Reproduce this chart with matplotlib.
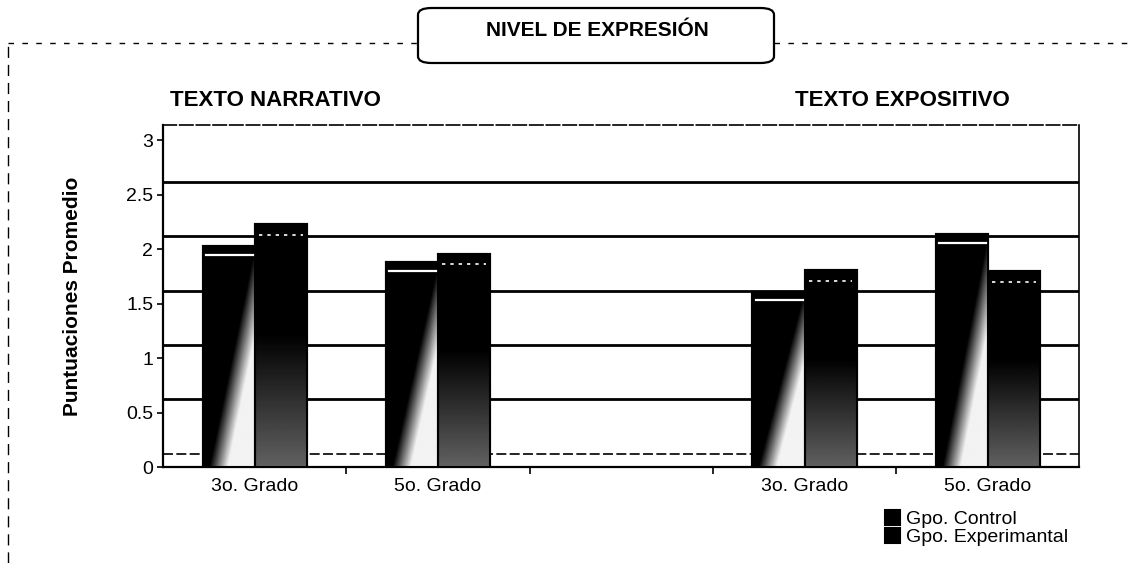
import numpy as np
import matplotlib
matplotlib.use('Agg')
import matplotlib.pyplot as plt
from matplotlib.patches import FancyBboxPatch, Rectangle
from matplotlib.lines import Line2D

plt.rcParams['font.family'] = ['Liberation Sans', 'DejaVu Sans']

# datos
categorias = ['3o. Grado', '5o. Grado', '', '3o. Grado', '5o. Grado']
control = [2.03, 1.88, np.nan, 1.61, 2.14]
experimental = [2.23, 1.96, np.nan, 1.81, 1.80]
yticks = [0, 0.5, 1, 1.5, 2, 2.5, 3]
ytick_labels = ['0', '0.5', '1', '1.5', '2', '2.5', '3']

grid_offset = 0.12   # las lineas de la pared de fondo (efecto 3D) van corridas
ancho = 0.284

fig = plt.figure(figsize=(11.28, 5.63), dpi=100)
ax = fig.add_axes([0.1445, 0.1705, 0.8125, 0.6075])

x = np.arange(len(categorias))

# lineas de fondo
for i, t in enumerate(yticks[:-1]):
    if i == 0:
        ax.axhline(t + grid_offset, color='black', lw=1.2, ls=(0, (6, 2)), zorder=1)
    else:
        ax.axhline(t + grid_offset, color='black', lw=2.0, zorder=1)

# degradados
u = np.linspace(0, 1, 60)
v = np.linspace(1, 0, 200)
U, V = np.meshgrid(u, v)
frontera = 0.12 + 0.88 * V
grad_control = np.clip((U - frontera) / 0.35, 0, 1) * 0.95
grad_exp = np.clip((0.55 - V) / 0.55, 0, 1) * 0.38

barras_c = ax.bar(x - ancho / 2, control, ancho, color='black', edgecolor='black',
                  lw=1.5, zorder=2, label='Gpo. Control')
barras_e = ax.bar(x + ancho / 2, experimental, ancho, color='black', edgecolor='black',
                  lw=1.5, zorder=2, label='Gpo. Experimantal')

for barras, grad in [(barras_c, grad_control), (barras_e, grad_exp)]:
    for b in barras:
        h = b.get_height()
        if np.isnan(h):
            continue
        x0 = b.get_x()
        w = b.get_width()
        im = ax.imshow(grad, extent=[x0, x0 + w, 0, h], cmap='gray', vmin=0, vmax=1,
                       aspect='auto', zorder=3, interpolation='bilinear')
        im.set_clip_path(b)
        ax.add_patch(Rectangle((x0, 0), w, h, fill=False, ec='black', lw=1.5, zorder=4))
        # borde superior del efecto 3D
        if barras is barras_c:
            ax.plot([x0 + w * 0.06, x0 + w * 0.97], [h - 0.08, h - 0.08],
                    color='white', lw=1.6, zorder=5)
        else:
            ax.plot([x0 + w * 0.08, x0 + w * 0.92], [h - 0.1, h - 0.1],
                    color='white', lw=1.2, ls=(0, (2, 3)), zorder=5)

ax.set_xlim(-0.5, len(categorias) - 0.5)
ax.set_ylim(0, 3.14)

ax.set_yticks(yticks)
ax.set_yticklabels(ytick_labels, fontsize=14)
ax.set_xticks(x)
ax.set_xticklabels(categorias, fontsize=14)
ax.tick_params(axis='x', length=0, pad=8)
ax.tick_params(axis='y', direction='out', length=4, width=1.2, pad=3)
ax.set_xticks(np.arange(len(categorias) - 1) + 0.5, minor=True)
ax.tick_params(axis='x', which='minor', direction='out', length=5, width=1.2)

for lado in ['left', 'bottom']:
    ax.spines[lado].set_linewidth(1.6)
ax.spines['top'].set_linestyle((0, (8, 2)))
ax.spines['top'].set_linewidth(1.2)
ax.spines['right'].set_linestyle((0, (10, 1)))
ax.spines['right'].set_linewidth(1.2)

ax.set_ylabel('Puntuaciones Promedio', fontsize=15, fontweight='bold', labelpad=32)

# encabezados
fig.text(170 / 1128, 1 - 100 / 563, 'TEXTO NARRATIVO', fontsize=16, fontweight='bold',
         ha='left', va='center')
fig.text(795 / 1128, 1 - 100 / 563, 'TEXTO EXPOSITIVO', fontsize=16, fontweight='bold',
         ha='left', va='center')

# titulo en caja y marco punteado
caja = FancyBboxPatch((418 / 1128, 1 - 63 / 563), 356 / 1128, 55 / 563,
                      boxstyle='round,pad=0,rounding_size=0.012', transform=fig.transFigure,
                      fc='white', ec='black', lw=1.6, zorder=5)
fig.patches.append(caja)
fig.text(597 / 1128, 1 - 30 / 563, 'NIVEL DE EXPRESIÓN', fontsize=15, fontweight='bold',
         ha='center', va='center', zorder=6)
yl = 1 - 43 / 563
fig.add_artist(Line2D([8 / 1128, 418 / 1128], [yl, yl], color='black', lw=1,
                      ls=(0, (4, 6)), transform=fig.transFigure))
fig.add_artist(Line2D([774 / 1128, 1], [yl, yl], color='black', lw=1,
                      ls=(0, (4, 6)), transform=fig.transFigure))
fig.add_artist(Line2D([8 / 1128, 8 / 1128], [0, yl], color='black', lw=1,
                      ls=(0, (8, 5)), transform=fig.transFigure))

fig.legend(handles=[barras_c, barras_e], loc='upper left',
           bbox_to_anchor=(875 / 1128, 1 - 500 / 563), frameon=False, fontsize=14,
           handlelength=0.8, handleheight=0.8, handletextpad=0.3, labelspacing=0.0,
           borderpad=0)

fig.savefig('out.png', dpi=100)
